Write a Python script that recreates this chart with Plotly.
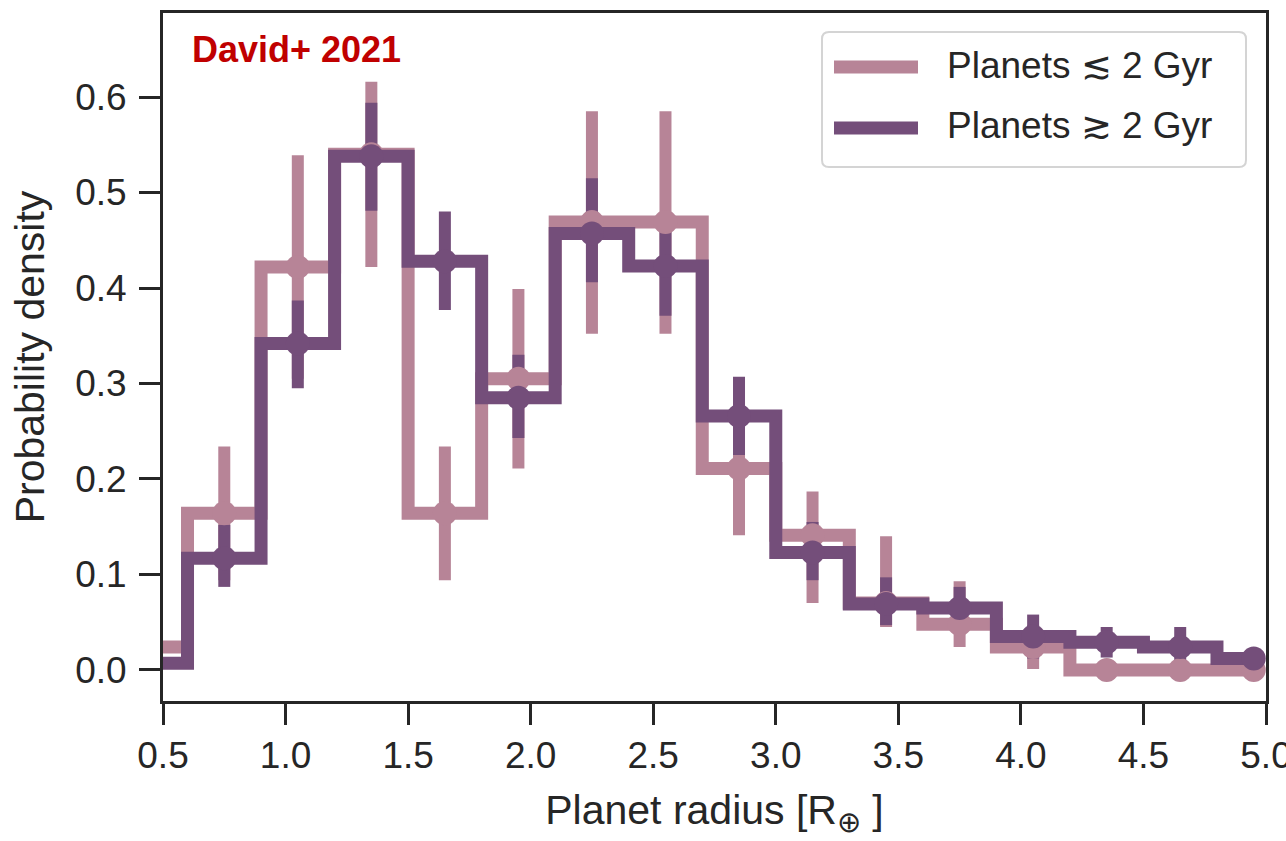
import plotly.graph_objects as go

# ---------------- data ----------------
bin_centers = [0.45, 0.75, 1.05, 1.35, 1.65, 1.95, 2.25, 2.55, 2.85,
               3.15, 3.45, 3.75, 4.05, 4.35, 4.65, 4.95]

young_density = [0.024, 0.164, 0.422, 0.540, 0.164, 0.305, 0.469, 0.469, 0.211,
                 0.141, 0.070, 0.048, 0.024, 0.0, 0.0, 0.0]
young_err_up = [0.020, 0.070, 0.117, 0.076, 0.070, 0.094, 0.116, 0.116, 0.070,
                0.046, 0.070, 0.045, 0.023, 0.0, 0.0, 0.0]
young_err_down = [0.020, 0.070, 0.117, 0.118, 0.070, 0.094, 0.117, 0.117, 0.070,
                  0.071, 0.025, 0.024, 0.023, 0.0, 0.0, 0.0]

old_density = [0.007, 0.117, 0.342, 0.538, 0.428, 0.285, 0.457, 0.423, 0.266,
               0.123, 0.069, 0.065, 0.035, 0.029, 0.024, 0.012]
old_err_up = [0.007, 0.035, 0.045, 0.056, 0.052, 0.045, 0.058, 0.052, 0.041,
              0.032, 0.028, 0.022, 0.023, 0.016, 0.021, 0.010]
old_err_down = [0.007, 0.030, 0.047, 0.057, 0.051, 0.042, 0.051, 0.052, 0.041,
                0.029, 0.022, 0.022, 0.023, 0.016, 0.021, 0.010]

young_label = "Planets \u2272 2 Gyr"
old_label = "Planets \u2273 2 Gyr"

x_ticks = [0.5, 1.0, 1.5, 2.0, 2.5, 3.0, 3.5, 4.0, 4.5, 5.0]
y_ticks = [0.0, 0.1, 0.2, 0.3, 0.4, 0.5, 0.6]

# ---------------- style ----------------
LIGHT = "#B78497"
DARK = "#744E7A"
INK = "#262626"
FONT = "Liberation Sans, Arial, Helvetica, sans-serif"

fig = go.Figure()

def err_trace(y, up, down, color):
    return go.Scatter(
        x=bin_centers, y=y, mode="markers",
        marker=dict(size=1, color="rgba(0,0,0,0)"),
        error_y=dict(type="data", symmetric=False, array=up, arrayminus=down,
                     color=color, thickness=12, width=0),
        showlegend=False, hoverinfo="skip", cliponaxis=True)

def line_trace(y, color, name):
    return go.Scatter(x=bin_centers, y=y, mode="lines", line_shape="hvh",
                      line=dict(color=color, width=13), name=name,
                      showlegend=False)

def marker_trace(y, color):
    return go.Scatter(x=bin_centers, y=y, mode="markers",
                      marker=dict(size=24, color=color, line=dict(width=0)),
                      showlegend=False, hoverinfo="skip")

fig.add_trace(err_trace(young_density, young_err_up, young_err_down, LIGHT))
fig.add_trace(err_trace(old_density, old_err_up, old_err_down, DARK))
fig.add_trace(line_trace(young_density, LIGHT, young_label))
fig.add_trace(marker_trace(young_density, LIGHT))
fig.add_trace(line_trace(old_density, DARK, old_label))
fig.add_trace(marker_trace(old_density, DARK))

# ---------------- manual legend ----------------
W, H = 1103.0, 688.0
L, B = 163.0, 701.0
def px(xp):
    return (xp - L) / W
def py(yp):
    return (B - yp) / H

bx0, bx1, by0, by1 = px(822), px(1246), py(32), py(167)
rx, ry = 7 / W, 7 / H
path = (f"M{bx0+rx},{by0} L{bx1-rx},{by0} Q{bx1},{by0} {bx1},{by0-ry} "
        f"L{bx1},{by1+ry} Q{bx1},{by1} {bx1-rx},{by1} "
        f"L{bx0+rx},{by1} Q{bx0},{by1} {bx0},{by1+ry} "
        f"L{bx0},{by0-ry} Q{bx0},{by0} {bx0+rx},{by0} Z")
shapes = [dict(type="path", xref="paper", yref="paper", path=path,
               fillcolor="rgba(255,255,255,0.85)",
               line=dict(color="#D4D4D4", width=2), layer="above")]
annotations = []
for label, color, rowy in [(young_label, LIGHT, 67), (old_label, DARK, 128)]:
    shapes.append(dict(type="line", xref="paper", yref="paper",
                       x0=px(834), x1=px(918), y0=py(rowy), y1=py(rowy),
                       line=dict(color=color, width=13), layer="above"))
    annotations.append(dict(xref="paper", yref="paper", x=px(945), y=py(rowy - 2),
                            xanchor="left", yanchor="middle", showarrow=False,
                            text=label, font=dict(family=FONT, size=37, color=INK)))

annotations.append(dict(xref="paper", yref="paper", x=px(190), y=py(50),
                        xanchor="left", yanchor="middle", showarrow=False,
                        text="<b>David+ 2021</b>",
                        font=dict(family=FONT, size=36, color="#C00000")))

axis_common = dict(showline=True, linecolor=INK, linewidth=3, mirror=True,
                   ticks="outside", ticklen=21, tickwidth=3, tickcolor=INK,
                   showgrid=False, zeroline=False, ticklabeloverflow="allow",
                   automargin=False,
                   tickfont=dict(family=FONT, size=37, color=INK))

fig.update_layout(
    width=1286, height=841,
    margin=dict(l=163, r=20, t=13, b=140, autoexpand=False),
    paper_bgcolor="white", plot_bgcolor="white",
    shapes=shapes, annotations=annotations,
    showlegend=False,
    xaxis=dict(range=[0.5, 5.0], tickvals=x_ticks, tickformat=".1f",
               ticklabelstandoff=-1,
               title=dict(text="Planet radius [R<sub>\u2295</sub> ]", standoff=20,
                          font=dict(family=FONT, size=41, color=INK)),
               **axis_common),
    yaxis=dict(range=[-0.0325, 0.688], tickvals=y_ticks, tickformat=".1f",
               ticklabelstandoff=5,
               title=dict(text="Probability density", standoff=18,
                          font=dict(family=FONT, size=41, color=INK)),
               **axis_common),
)

fig.write_html("out.html")
